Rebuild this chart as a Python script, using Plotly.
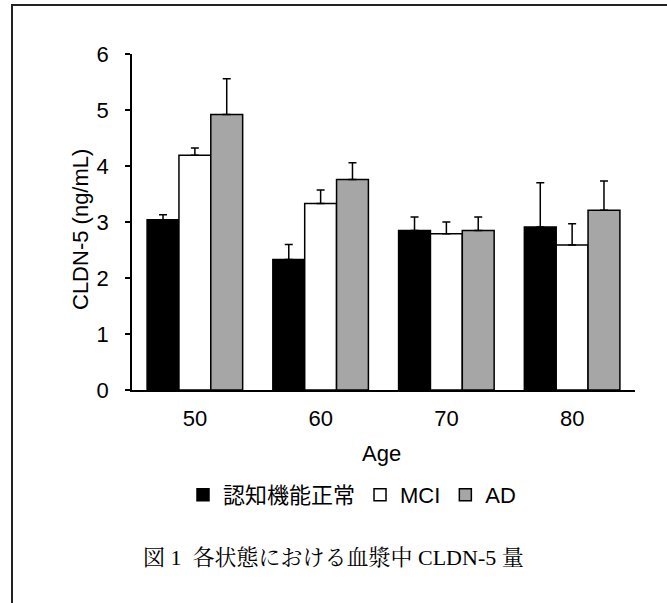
import plotly.graph_objects as go

ages = ["50", "60", "70", "80"]
series_names = ["認知機能正常", "MCI", "AD"]
normal_vals = [3.04, 2.33, 2.85, 2.91]
normal_err = [0.09, 0.27, 0.24, 0.79]
mci_vals = [4.19, 3.33, 2.79, 2.59]
mci_err = [0.13, 0.24, 0.21, 0.38]
ad_vals = [4.92, 3.76, 2.85, 3.21]
ad_err = [0.64, 0.30, 0.24, 0.52]
y_ticks = [0, 1, 2, 3, 4, 5, 6]

FONT = "Arial, 'Liberation Sans', 'Noto Sans CJK JP', sans-serif"
FS = 22
colors = ["#000000", "#ffffff", "#a6a6a6"]
vals = [normal_vals, mci_vals, ad_vals]
errs = [normal_err, mci_err, ad_err]

fig = go.Figure()
for name, v, e, c in zip(series_names, vals, errs, colors):
    fig.add_trace(go.Bar(
        x=ages, y=v, name=name,
        marker=dict(color=c, line=dict(color="#000000", width=1.5)),
        error_y=dict(type="data", array=e, arrayminus=[0]*len(e), symmetric=False,
                     color="#000000", thickness=1.5, width=4),
    ))

L, R, T, B = 132, 32, 54, 213
W, H = 667, 603
pw = W - L - R
ph = H - T - B

def px(x):
    return (x - L) / pw

def py(y):
    return (H - B - y) / ph

fig.update_layout(
    width=W, height=H,
    margin=dict(l=L, r=R, t=T, b=B, pad=0),
    paper_bgcolor="white", plot_bgcolor="white",
    barmode="group", bargap=0.24, bargroupgap=0,
    font=dict(family=FONT, size=FS, color="#000000"),
    showlegend=True,
    legend=dict(orientation="h", x=px(352), y=py(495), xanchor="center", yanchor="middle",
                font=dict(size=FS, family=FONT), traceorder="normal", itemwidth=30,
                bgcolor="rgba(0,0,0,0)"),
    xaxis=dict(showline=True, linecolor="#000000", linewidth=1.5, ticks="",
               showgrid=False, tickfont=dict(size=FS), zeroline=False,
               ticklabelstandoff=8),
    yaxis=dict(range=[0, 6], tickvals=y_ticks, showline=True, linecolor="#000000",
               linewidth=1.5, ticks="outside", ticklen=5, tickcolor="#000000",
               tickwidth=1.5, showgrid=False, zeroline=False, tickfont=dict(size=FS),
               ticklabelstandoff=12),
    annotations=[
        dict(text="CLDN-5 (ng/mL)", textangle=-90, x=px(80), y=py(230), xref="paper",
             yref="paper", showarrow=False, xanchor="center", yanchor="middle",
             font=dict(size=FS, family=FONT)),
        dict(text="Age", x=px(381), y=py(453), xref="paper", yref="paper", showarrow=False,
             xanchor="center", yanchor="middle", font=dict(size=FS, family=FONT)),
        dict(text="図 1  各状態における血漿中 CLDN-5 量", x=px(333), y=py(557), xref="paper",
             yref="paper", showarrow=False, xanchor="center", yanchor="middle",
             font=dict(size=22, family="'Liberation Serif', 'Noto Serif CJK JP', 'Noto Sans CJK JP', serif")),
    ],
    shapes=[
        dict(type="line", xref="paper", yref="paper", x0=px(12), x1=px(12), y0=py(603), y1=py(5),
             line=dict(color="#222222", width=2)),
        dict(type="line", xref="paper", yref="paper", x0=px(11), x1=px(667), y0=py(5), y1=py(5),
             line=dict(color="#222222", width=2)),
    ],
)

fig.write_html("out.html")
